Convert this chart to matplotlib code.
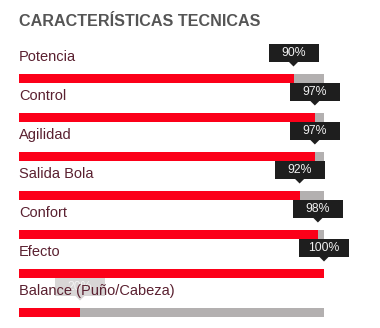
import matplotlib
matplotlib.use("Agg")
import matplotlib.pyplot as plt
from matplotlib.patches import Rectangle, Polygon

title = "CARACTERÍSTICAS TECNICAS"
categories = ["Potencia", "Control", "Agilidad", "Salida Bola", "Confort", "Efecto",
              "Balance (Puño/Cabeza)"]
values = [90, 97, 97, 92, 98, 100, 20]
value_labels = ["90%", "97%", "97%", "92%", "98%", "100%", "20%"]
faded = [False, False, False, False, False, False, True]

W, H = 380, 328
fig = plt.figure(figsize=(W / 100, H / 100), dpi=100)
fig.patch.set_facecolor("white")

# axes: x 0..100 maps to pixel 19..324; category i centered at pixel 78.5 + 39*i
left_px, right_px = 19, 324
ax = fig.add_axes([left_px / W, 0, (right_px - left_px) / W, 1])
ax.set_xlim(0, 100)
ax.set_ylim((H - 78.5) / 39, -78.5 / 39)
ax.axis("off")

px_x = 100 / (right_px - left_px)  # data units per pixel in x
px_y = 1 / 39                       # data units per pixel in y

red = "#fc0019"
track = "#b3b0b0"
label_col = "#5a2030"
bar_h = 9 * px_y

n = len(categories)
ys = list(range(n))
ax.barh(ys, [100] * n, height=bar_h, color=track, zorder=1)
ax.barh(ys, values, height=bar_h, color=red, zorder=2)

bw, bh = 50 * px_x, 18 * px_y
for i, (cat, v, lab, fd) in enumerate(zip(categories, values, value_labels, faded)):
    cy = i - 25.5 * px_y
    if fd:
        boxc, txtc, z, a = "#d4d2d2", "#f4f4f4", 3, 0.9
    else:
        boxc, txtc, z, a = "#1e1e1e", "#f0f0f0", 6, 1.0
    ax.add_patch(Rectangle((v - bw / 2, cy - bh / 2), bw, bh, facecolor=boxc,
                           edgecolor="none", zorder=z, alpha=a, clip_on=False))
    tri_w = 4.5 * px_x
    ax.add_patch(Polygon([(v - tri_w, cy + bh / 2), (v + tri_w, cy + bh / 2),
                          (v, cy + bh / 2 + 4.5 * px_y)], closed=True,
                         facecolor=boxc, edgecolor="none", zorder=z, alpha=a,
                         clip_on=False))
    ax.text(v, cy, lab, color=txtc, fontsize=8.8, ha="center", va="center",
            family="Liberation Sans", zorder=z + 1, clip_on=False)
    ax.text(0, i - 21.5 * px_y, cat, color=label_col, fontsize=10.5,
            ha="left", va="center", family="Liberation Sans", zorder=5,
            clip_on=False)

fig.text(left_px / W, 1 - 21 / H, title, color="#555555", fontsize=11.6,
         fontweight="bold", family="Liberation Sans", ha="left", va="center")

fig.savefig("out.png", dpi=100, facecolor="white")
